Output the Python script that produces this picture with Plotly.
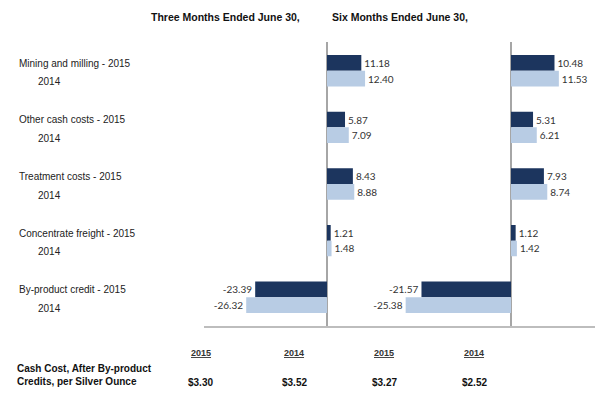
import plotly.graph_objects as go

categories = ["Mining and milling", "Other cash costs", "Treatment costs",
              "Concentrate freight", "By-product credit"]
three_2015 = [11.18, 5.87, 8.43, 1.21, -23.39]
three_2014 = [12.40, 7.09, 8.88, 1.48, -26.32]
six_2015 = [10.48, 5.31, 7.93, 1.12, -21.57]
six_2014 = [11.53, 6.21, 8.74, 1.42, -25.38]

panel_titles = ["Three Months Ended June 30,", "Six Months Ended June 30,"]
table_years = ["2015", "2014", "2015", "2014"]
table_values = ["$3.30", "$3.52", "$3.27", "$2.52"]
table_label = "Cash Cost, After By-product<br>Credits, per Silver Ounce"

# page body has an 8px margin; figure sized to fit inside it
OFF = 8
W, H = 605 - 2 * OFF, 400 - 2 * OFF
DARK = "#1c355e"
LIGHT = "#b8cce4"
BOLD_FONT = "Liberation Sans, Arial, sans-serif"
LABEL_FONT = dict(family="Liberation Sans, Arial, sans-serif", size=10, color="#222222")
VAL_FONT = dict(family="Lato, Carlito, Calibri, sans-serif", size=10, color="#333333")

fig = go.Figure()

def add_bars(vals, color, xa):
    fig.add_trace(go.Bar(
        y=categories, x=vals, orientation="h", xaxis=xa, yaxis="y",
        marker=dict(color=color, line=dict(width=0)),
        texttemplate="%{x:.2f}", textposition="outside", cliponaxis=False,
        constraintext="none", textfont=VAL_FONT, showlegend=False,
        hoverinfo="skip"))

add_bars(three_2015, DARK, "x")
add_bars(three_2014, LIGHT, "x")
add_bars(six_2015, DARK, "x2")
add_bars(six_2014, LIGHT, "x2")

def px_x(p):
    return (p - OFF) / W

def px_y(p):
    return 1 - (p - OFF) / H

# axis geometry (reference pixels)
z1, s1 = 327.0, 3.07   # zero position, px per unit, panel 1
z2, s2 = 511.0, 4.15   # panel 2
a1, b1 = 204.0, 400.0
a2, b2 = 400.0, 595.0
ytop, ybot = 42.4, 325.6

axis_common = dict(showticklabels=False, ticks="", showgrid=False,
                   zeroline=True, zerolinecolor="#a6a6a6", zerolinewidth=1.5,
                   showline=True, linecolor="#bdbdbd", linewidth=1.5, anchor="y")

fig.update_layout(
    width=W, height=H,
    margin=dict(l=0, r=0, t=0, b=0),
    paper_bgcolor="white", plot_bgcolor="white",
    barmode="group", bargap=0.446, bargroupgap=0,
    xaxis=dict(domain=[px_x(a1), px_x(b1)],
               range=[(a1 - z1) / s1, (b1 - z1) / s1], **axis_common),
    xaxis2=dict(domain=[px_x(a2), px_x(b2)],
                range=[(a2 - z2) / s2, (b2 - z2) / s2], **axis_common),
    yaxis=dict(domain=[px_y(ybot), px_y(ytop)], type="category",
               categoryorder="array", categoryarray=categories,
               range=[len(categories) - 0.5, -0.5],
               showticklabels=False, showgrid=False, zeroline=False, ticks=""),
)

annotations = []
for cat in categories:
    annotations.append(dict(xref="paper", yref="y", x=px_x(17), y=cat,
                            xanchor="left", yanchor="middle", yshift=7.5,
                            text=f"{cat} - 2015", showarrow=False, font=LABEL_FONT))
    annotations.append(dict(xref="paper", yref="y", x=px_x(36), y=cat,
                            xanchor="left", yanchor="middle", yshift=-11,
                            text="2014", showarrow=False, font=LABEL_FONT))

for title, cx in zip(panel_titles, [225.5, 399.7]):
    annotations.append(dict(xref="paper", yref="paper", x=px_x(cx), y=px_y(17),
                            xanchor="center", yanchor="middle", showarrow=False,
                            text=f"<b>{title}</b>",
                            font=dict(family=BOLD_FONT, size=10.5, color="#111111")))

annotations.append(dict(xref="paper", yref="paper", x=px_x(15), y=px_y(375),
                        xanchor="left", yanchor="middle", align="left",
                        showarrow=False, text=f"<b>{table_label}</b>",
                        font=dict(family=BOLD_FONT, size=10, color="#111111")))

for yr, val, cx in zip(table_years, table_values, [200.8, 294.3, 384.0, 474.0]):
    annotations.append(dict(xref="paper", yref="paper", x=px_x(cx), y=px_y(353),
                            xanchor="center", yanchor="middle", showarrow=False,
                            text=f"<b><u>{yr}</u></b>",
                            font=dict(family=BOLD_FONT, size=9, color="#333333")))
    annotations.append(dict(xref="paper", yref="paper", x=px_x(cx), y=px_y(382.5),
                            xanchor="center", yanchor="middle", showarrow=False,
                            text=f"<b>{val}</b>",
                            font=dict(family=BOLD_FONT, size=10, color="#111111")))

fig.update_layout(annotations=annotations)
fig.write_html("out.html")
